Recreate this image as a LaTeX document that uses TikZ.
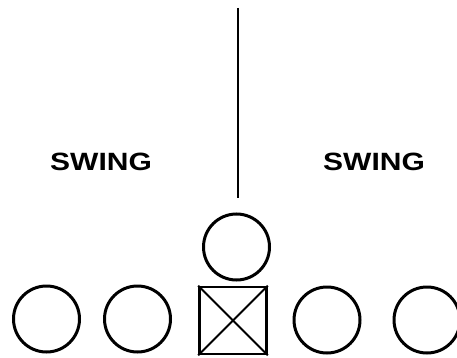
\documentclass[tikz,border=0pt]{standalone}
\usepackage{fontspec}
\newfontfamily\swingfont{Liberation Sans}
\begin{document}
\begin{tikzpicture}[x=1pt,y=-1pt,
  player/.style={circle,draw,line width=3pt,minimum size=66pt,inner sep=0pt},
  center/.style={rectangle,draw,line width=2.6pt,minimum size=67pt,inner sep=0pt},
  label/.style={font=\swingfont\fontsize{25}{30}\selectfont\bfseries,inner sep=0pt}]
\useasboundingbox (0,0) rectangle (457,358);
\node[player] (p1) at (46.5,319) {};
\node[player] (p2) at (137.5,319) {};
\node[center] (c) at (233,320.5) {};
\node[player] (p4) at (327,320) {};
\node[player] (p5) at (427,320) {};
\node[player] (qb) at (236.5,247) {};
\draw[line width=2pt] (c.north west) -- (c.south east);
\draw[line width=2pt] (c.north east) -- (c.south west);
\coordinate (ltop) at (238,8);
\coordinate (lbot) at (238,198);
\draw[line width=1.4pt] (ltop) -- (lbot);
\node[label,anchor=base] (sl) at (101,170) {\scalebox{1.2}[1]{SWING}};
\node[label,anchor=base] (sr) at (374,170) {\scalebox{1.2}[1]{SWING}};
\end{tikzpicture}
\end{document}
